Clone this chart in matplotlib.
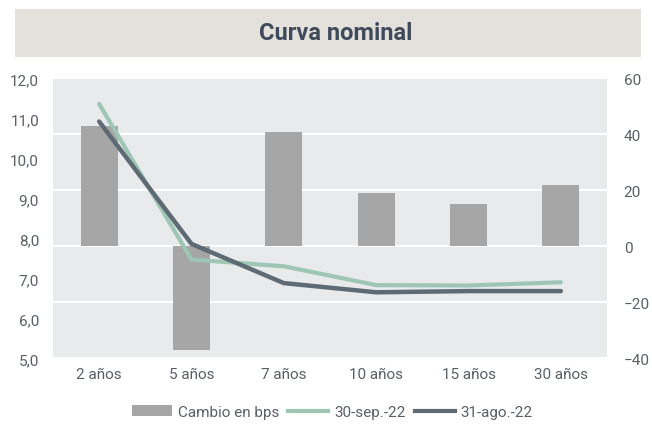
import matplotlib
matplotlib.use("Agg")
import matplotlib.pyplot as plt
from matplotlib.patches import Rectangle, Patch
from matplotlib.lines import Line2D

plt.rcParams['font.family'] = ['Roboto', 'DejaVu Sans']

categories = ["2 años", "5 años", "7 años", "10 años", "15 años", "30 años"]
cambio_bps = [43, -37, 41, 19, 15, 22]
sep22 = [11.36, 7.47, 7.30, 6.83, 6.82, 6.90]
ago22 = [10.92, 7.86, 6.88, 6.65, 6.68, 6.68]
left_ticks = [5.0, 6.0, 7.0, 8.0, 9.0, 10.0, 11.0, 12.0]
right_ticks = [-40, -20, 0, 20, 40, 60]

text_color = "#5a5f66"
bar_color = "#a6a6a6"
green = "#9dc6b5"
dark = "#5e6a74"
bg = "#e9eaec"

fig = plt.figure(figsize=(6.52, 4.27), dpi=100)

# title box
fig.patches.append(Rectangle((15/652, 1-57.7/427), (641-15)/652, (57.7-10)/427,
                             transform=fig.transFigure, facecolor="#e4e1dc",
                             edgecolor="none", zorder=0))
fig.text(0.515, 1-34/427, "Curva nominal", ha="center", va="center",
         fontsize=17, fontweight="bold", color="#3f4a5a")

ax2 = fig.add_axes([53/652, 1-359.3/427, (607-53)/652, (359.3-79.3)/427])
ax2.set_facecolor(bg)
x = list(range(len(categories)))
ax2.bar(x, cambio_bps, width=0.4, color=bar_color, zorder=2)
ax2.set_ylim(-40, 60)
ax2.set_yticks(right_ticks)
ax2.grid(axis="y", color="white", linewidth=1.5, zorder=1)
ax2.set_axisbelow(True)
ax2.set_xlim(-0.5, 5.5)
ax2.set_xticks(x)
ax2.set_xticklabels(categories)
for s in ax2.spines.values():
    s.set_visible(False)

ax = ax2.twinx()
ax2.yaxis.tick_right()
ax.yaxis.tick_left()
ax2.tick_params(axis="both", length=0, labelsize=11, colors=text_color)
ax2.tick_params(axis="y", pad=12)
ax2.tick_params(axis="x", pad=6)

ax.plot(x, sep22, color=green, linewidth=3, zorder=3, solid_capstyle="round")
ax.plot(x, ago22, color=dark, linewidth=3.2, zorder=4, solid_capstyle="round")
ax.set_ylim(5, 12)
ax.set_yticks(left_ticks)
ax.set_yticklabels([f"{v:.1f}".replace(".", ",") for v in left_ticks])
for s in ax.spines.values():
    s.set_visible(False)
ax.tick_params(axis="both", length=0, labelsize=11, colors=text_color)
ax.tick_params(axis="y", pad=10)

handles = [Patch(facecolor=bar_color, edgecolor="none"),
           Line2D([0], [0], color=green, linewidth=3),
           Line2D([0], [0], color=dark, linewidth=3)]
labels = ["Cambio en bps", "30-sep.-22", "31-ago.-22"]
fig.legend(handles, labels, loc="center", bbox_to_anchor=(0.51, 1-413/427),
           ncol=3, frameon=False, fontsize=11, labelcolor=text_color,
           handlelength=2.6, handletextpad=0.4, columnspacing=0.6)

fig.savefig("out.png", dpi=100)
